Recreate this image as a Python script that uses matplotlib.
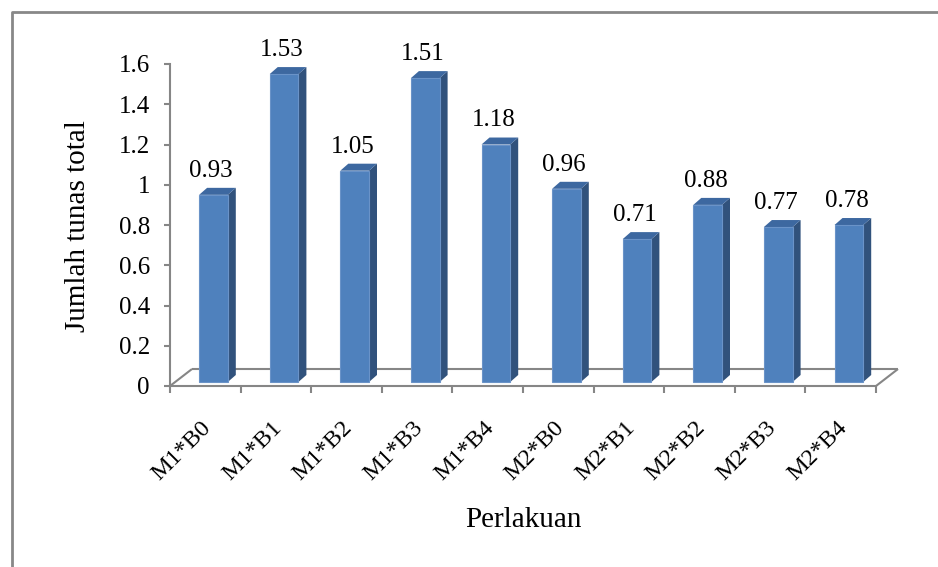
import matplotlib
matplotlib.use("Agg")
import matplotlib.pyplot as plt
from matplotlib.patches import Polygon, Rectangle

plt.rcParams['font.family'] = ['Liberation Serif', 'DejaVu Serif']

categories = ["M1*B0", "M1*B1", "M1*B2", "M1*B3", "M1*B4",
              "M2*B0", "M2*B1", "M2*B2", "M2*B3", "M2*B4"]
values = [0.93, 1.53, 1.05, 1.51, 1.18, 0.96, 0.71, 0.88, 0.77, 0.78]
y_ticks = [0, 0.2, 0.4, 0.6, 0.8, 1, 1.2, 1.4, 1.6]
y_tick_labels = ["0", "0.2", "0.4", "0.6", "0.8", "1", "1.2", "1.4", "1.6"]

W, H = 938, 567
fig = plt.figure(figsize=(W / 100, H / 100), dpi=100)

# plot area in pixels: x 170..876, value 0 at y=386, 1.6 at y=64
ax_l, ax_r, ax_b, ax_t = 170, 876, 386, 64
ax = fig.add_axes([ax_l / W, 1 - ax_b / H, (ax_r - ax_l) / W, (ax_b - ax_t) / H])
ax.set_xlim(0, len(categories))
ax.set_ylim(0, 1.6)

px_x = (ax_r - ax_l) / len(categories)   # pixels per category
px_y = (ax_b - ax_t) / 1.6               # pixels per value unit

gray = '#868686'
front_c = '#4F81BD'
side_c = '#31527C'
top_c = '#3D68A0'

# floor of the 3-D plot
fdx, fdy = 22 / px_x, 17 / px_y
n = len(categories)
for xs, ys in [([0, fdx], [0, fdy]),
               ([fdx, n + fdx], [fdy, fdy]),
               ([n, n + fdx], [0, fdy])]:
    ax.plot(xs, ys, color=gray, lw=1.5, clip_on=False, zorder=1,
            solid_capstyle='butt')

# 3-D columns
base = 4 / px_y
left_off = -6.2 / px_x
bw = 28.7 / px_x
ddx, ddy = 8 / px_x, 7 / px_y
for i, v in enumerate(values):
    x0 = i + 0.5 + left_off
    x1 = x0 + bw
    y0, y1 = base, v + base
    ax.add_patch(Polygon([(x1, y0), (x1 + ddx, y0 + ddy), (x1 + ddx, y1 + ddy), (x1, y1)],
                         closed=True, fc=side_c, ec='none', zorder=3, clip_on=False))
    ax.add_patch(Polygon([(x0, y1), (x1, y1), (x1 + ddx, y1 + ddy), (x0 + ddx, y1 + ddy)],
                         closed=True, fc=top_c, ec='none', zorder=3, clip_on=False))
    ax.add_patch(Rectangle((x0, y0), bw, y1 - y0, fc=front_c, ec='#6A93C8',
                           lw=0.8, zorder=4, clip_on=False))
    ax.annotate(f"{v:.2f}", xy=(i + 0.5, y1), xytext=(4.3, 13),
                textcoords='offset points', ha='center', va='baseline',
                fontsize=18, color='black', zorder=5, annotation_clip=False)

# axes
for s in ['top', 'right']:
    ax.spines[s].set_visible(False)
for s in ['left', 'bottom']:
    ax.spines[s].set_color(gray)
    ax.spines[s].set_linewidth(1.5)
ax.set_yticks(y_ticks)
ax.set_yticklabels(y_tick_labels)
ax.set_xticks(range(n + 1))
ax.set_xticklabels([])
ax.tick_params(axis='y', direction='out', length=4.5, width=1.5, color=gray,
               labelsize=18, pad=10)
ax.tick_params(axis='x', direction='out', length=5, width=1.5, color=gray)

for i, c in enumerate(categories):
    ax.annotate(c, xy=(i + 0.5, 0), xytext=(2, -28), textcoords='offset points',
                rotation=45, rotation_mode='anchor', ha='right', va='center',
                fontsize=17.5, annotation_clip=False)

fig.text(78 / W, 1 - 226 / H, "Jumlah tunas total", rotation=90,
         ha='center', va='center', fontsize=21)
fig.text(523 / W, 1 - 520 / H, "Perlakuan", ha='center', va='center', fontsize=21)

# chart-area border
fig.add_artist(plt.Line2D([12 / W, 12 / W, 1], [0, 1 - 12 / H, 1 - 12 / H],
                          transform=fig.transFigure, color='#888888', lw=2))

fig.savefig("out.png", dpi=100)
